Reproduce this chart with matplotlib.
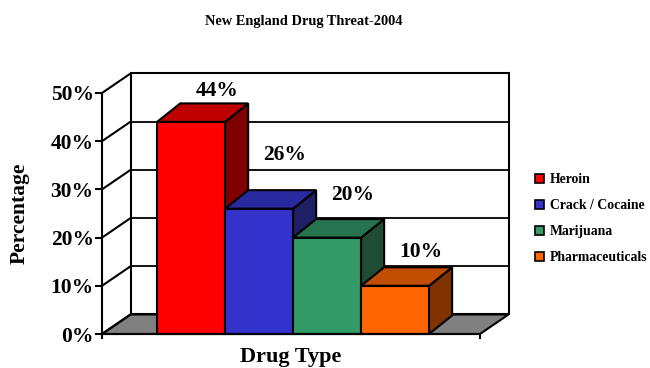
import matplotlib
matplotlib.use('Agg')
import matplotlib.pyplot as plt
from matplotlib.patches import Polygon, Patch

# chart data
drugs = ['Heroin', 'Crack / Cocaine', 'Marijuana', 'Pharmaceuticals']
share = [44, 26, 20, 10]
y_ticks = [0, 10, 20, 30, 40, 50]

# face colours: front, top, side
front_cols = ['#FF0000', '#3333CC', '#339966', '#FF6600']
top_cols = ['#BF0000', '#2A2AA0', '#267350', '#C04D00']
side_cols = ['#7F0000', '#1F1F66', '#1F4D33', '#803300']

# how far above each bar top its value label sits (in % units)
label_lift = [6.4, 11.1, 8.8, 7.0]

SERIF = ['Liberation Serif', 'DejaVu Serif']
plt.rcParams['font.family'] = SERIF
plt.rcParams['font.weight'] = 'bold'

W, H = 650, 368
fig = plt.figure(figsize=(W / 100, H / 100), dpi=100)
ax = fig.add_axes([102 / W, 34 / H, 378 / W, 241 / H])
x0, x1 = -1.31, 4.25
ymax = 50
ax.set_xlim(x0, x1)
ax.set_ylim(0, ymax)

# oblique depth of the walls and of the bars, in data units
DX, DY = 0.42, 4.05
BDX, BDY = 0.34, 3.84
LW = 1.5

def poly(pts, fc, lw=LW, z=2):
    ax.add_patch(Polygon(pts, closed=True, facecolor=fc, edgecolor='black',
                         linewidth=lw, joinstyle='miter', clip_on=False, zorder=z))

# floor
poly([(x0, 0), (x0 + DX, DY), (x1 + DX, DY), (x1, 0)], '#808080', z=1)
# back wall
poly([(x0 + DX, DY), (x0 + DX, ymax + DY), (x1 + DX, ymax + DY), (x1 + DX, DY)],
     'white', z=1)
# gridlines on back wall and side wall
for t in y_ticks[1:-1]:
    ax.plot([x0 + DX, x1 + DX], [t + DY, t + DY], color='black', lw=1.3,
            clip_on=False, zorder=1.5)
for t in y_ticks:
    ax.plot([x0, x0 + DX], [t, t + DY], color='black', lw=LW,
            clip_on=False, zorder=1.5)

# bars, drawn left to right so later ones sit in front
for i, v in enumerate(share):
    l, r = i - 0.5, i + 0.5
    z = 3 + i
    poly([(r, 0), (r + BDX, BDY), (r + BDX, v + BDY), (r, v)], side_cols[i], z=z)
    poly([(l, v), (r, v), (r + BDX, v + BDY), (l + BDX, v + BDY)], top_cols[i], z=z)
    poly([(l, 0), (r, 0), (r, v), (l, v)], front_cols[i], z=z)
    ax.text(i + 0.38, v + label_lift[i], f'{v}%', ha='center', va='center',
            fontsize=15.5, fontweight='bold', zorder=10)

# axes styling
for s in ['top', 'right']:
    ax.spines[s].set_visible(False)
for s in ['left', 'bottom']:
    ax.spines[s].set_linewidth(LW)
    ax.spines[s].set_zorder(9)
ax.patch.set_visible(False)
ax.set_yticks(y_ticks)
ax.set_yticklabels([f'{t}%' for t in y_ticks], fontsize=15.5, fontweight='bold')
ax.set_xticks([x0, x1])
ax.set_xticklabels([])
ax.tick_params(axis='y', length=5, width=LW, pad=1)
ax.tick_params(axis='x', length=3.5, width=LW)

fig.text(304 / W, 1 - 21 / H, 'New England Drug Threat-2004', ha='center',
         va='center', fontsize=10.4, fontweight='bold')
fig.text(291 / W, 6 / H, 'Drug Type', ha='center', va='baseline',
         fontsize=16, fontweight='bold')
fig.text(20 / W, 1 - 213 / H, 'Percentage', ha='center', va='center',
         rotation=90, fontsize=15.5, fontweight='bold')

handles = [Patch(facecolor=c, edgecolor='black', linewidth=1.2) for c in front_cols]
fig.legend(handles, drugs, loc='upper left', bbox_to_anchor=(535 / W, 1 - 173 / H),
           frameon=False, borderpad=0, borderaxespad=0, handlelength=0.62,
           handleheight=0.62, handletextpad=0.45, labelspacing=0.95,
           prop={'family': SERIF, 'weight': 'bold', 'size': 9.9})

fig.savefig('out.png', dpi=100)
